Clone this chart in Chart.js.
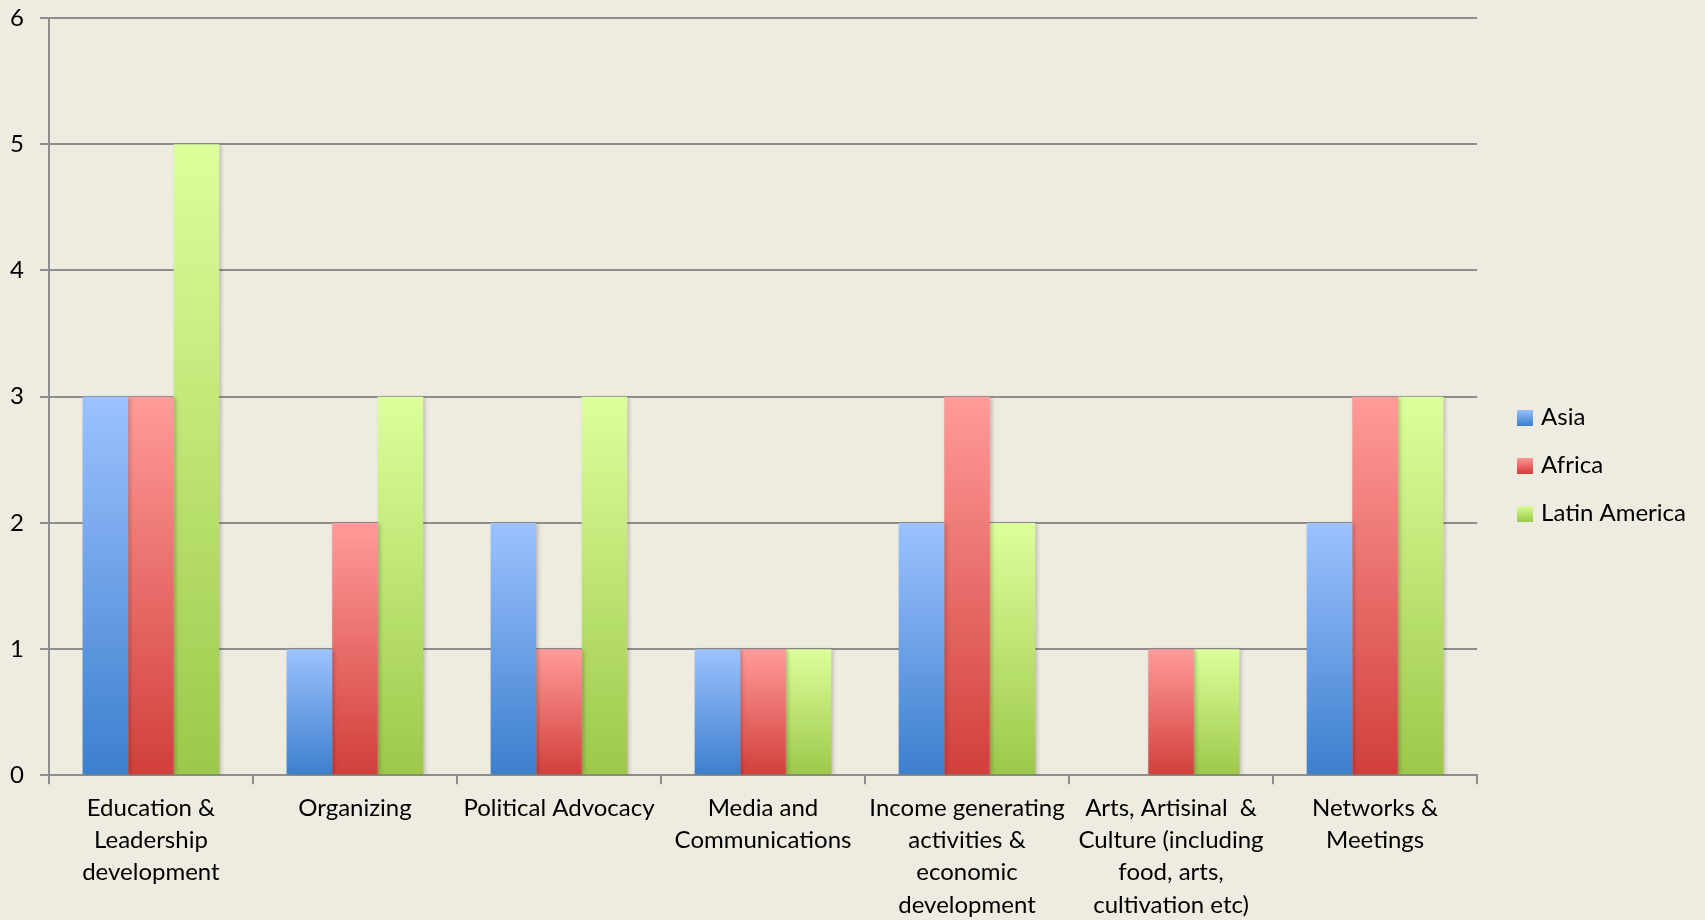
<!DOCTYPE html>
<html>
<head>
<meta charset="utf-8">
<script src="https://cdn.jsdelivr.net/npm/chart.js@4/dist/chart.umd.min.js"></script>
<style>
  html, body { margin: 0; padding: 0; background: #eeebe0; }
  #wrap { width: 1705px; height: 920px; position: relative; }
</style>
</head>
<body>
<div id="wrap"><canvas id="chart"></canvas></div>
<script>
// Data
const CATEGORIES = [
    ['Education &', 'Leadership', 'development'],
    'Organizing',
    'Political Advocacy',
    ['Media and', 'Communications'],
    ['Income generating', 'activities &', 'economic', 'development'],
    ['Arts, Artisinal  &', 'Culture (including', 'food, arts,', 'cultivation etc)'],
    ['Networks &', 'Meetings']
];
const ASIA = [3, 1, 2, 1, 2, 0, 2];
const AFRICA = [3, 2, 1, 1, 3, 1, 3];
const LATIN_AMERICA = [5, 3, 3, 1, 2, 1, 3];
const Y_TICKS = [0, 1, 2, 3, 4, 5, 6];

const GRID = '#8e8e8e';
const FONT = 'Lato';
const LEGEND_WIDEN = 27; // extra legend width (plot gets narrower)
const LEGEND_SHIFT_X = 20;
const LEGEND_SHIFT_Y = 1;

// Vertical gradient per bar: light at the top, dark at the base
function barGradient(top, bottom) {
    return (ctx) => {
        const chart = ctx.chart;
        if (!chart.chartArea || ctx.type !== 'data') return bottom;
        const y = chart.scales.y;
        const yTop = y.getPixelForValue(ctx.raw);
        const yBase = y.getPixelForValue(0);
        if (yTop >= yBase) return bottom;
        const g = chart.ctx.createLinearGradient(0, yTop, 0, yBase);
        g.addColorStop(0, top);
        g.addColorStop(1, bottom);
        return g;
    };
}

// Small gradient square used as the legend marker
function legendSwatch(top, bottom) {
    const c = document.createElement('canvas');
    c.width = 16; c.height = 16;
    const x = c.getContext('2d');
    const g = x.createLinearGradient(0, 0, 0, 16);
    g.addColorStop(0, top);
    g.addColorStop(1, bottom);
    x.fillStyle = g;
    x.fillRect(0, 0, 16, 16);
    return c;
}

const SERIES = [
    { label: 'Asia', data: ASIA, top: '#9cc2ff', bottom: '#3c7fcd' },
    { label: 'Africa', data: AFRICA, top: '#ff9b99', bottom: '#d13f3b' },
    { label: 'Latin America', data: LATIN_AMERICA, top: '#dcff9b', bottom: '#9dc84a' }
];

// Soft drop shadow behind the bars
const barShadow = {
    id: 'barShadow',
    beforeDatasetsDraw(chart) {
        const c = chart.ctx;
        c.save();
        c.shadowColor = 'rgba(0,0,0,0.22)';
        c.shadowBlur = 4;
        c.shadowOffsetX = 2;
        c.shadowOffsetY = 1;
    },
    afterDatasetsDraw(chart) {
        chart.ctx.restore();
    }
};

// Widen the legend box and nudge its items, leaving a wider gap to the plot
const legendGap = {
    id: 'legendGap',
    afterInit(chart) {
        const legend = chart.legend;
        const fit = legend.fit;
        legend.fit = function () {
            fit.call(this);
            this.width += LEGEND_WIDEN;
        };
    },
    afterLayout(chart) {
        const l = chart.legend;
        l.left += LEGEND_SHIFT_X;
        l.right += LEGEND_SHIFT_X;
        l.top += LEGEND_SHIFT_Y;
        l.bottom += LEGEND_SHIFT_Y;
    }
};

new Chart(document.getElementById('chart'), {
    type: 'bar',
    data: {
        labels: CATEGORIES,
        datasets: SERIES.map(s => ({
            label: s.label,
            data: s.data,
            backgroundColor: barGradient(s.top, s.bottom),
            borderWidth: 0,
            categoryPercentage: 0.67,
            barPercentage: 1.0
        }))
    },
    plugins: [barShadow, legendGap],
    options: {
        responsive: true,
        maintainAspectRatio: false,
        animation: false,
        layout: { padding: { top: 0, left: -6, right: 2, bottom: -9 } },
        plugins: {
            tooltip: { enabled: false },
            legend: {
                position: 'right',
                labels: {
                    color: '#000',
                    font: { family: FONT, size: 24 },
                    usePointStyle: true,
                    pointStyleWidth: 8,
                    boxWidth: 16,
                    boxHeight: 16,
                    padding: 24,
                    generateLabels: (chart) => SERIES.map((s, i) => ({
                        text: s.label,
                        pointStyle: legendSwatch(s.top, s.bottom),
                        fillStyle: s.bottom,
                        strokeStyle: s.bottom,
                        lineWidth: 0,
                        fontColor: '#000',
                        hidden: !chart.isDatasetVisible(i),
                        datasetIndex: i
                    }))
                }
            }
        },
        scales: {
            x: {
                grid: {
                    display: true,
                    drawOnChartArea: false,
                    drawTicks: true,
                    tickLength: 9,
                    color: GRID,
                    lineWidth: 2
                },
                border: { display: true, color: GRID, width: 2 },
                ticks: {
                    color: '#000',
                    font: { family: FONT, size: 24, lineHeight: 1.34 },
                    padding: 8,
                    maxRotation: 0,
                    autoSkip: false
                }
            },
            y: {
                min: 0,
                max: 6,
                afterBuildTicks: (axis) => { axis.ticks = Y_TICKS.map(v => ({ value: v })); },
                afterFit: (axis) => { axis.paddingTop = 18; },
                grid: {
                    color: GRID,
                    lineWidth: 2,
                    drawTicks: true,
                    tickLength: 9
                },
                border: { display: true, color: GRID, width: 2 },
                ticks: {
                    color: '#000',
                    font: { family: FONT, size: 24 },
                    padding: 16
                }
            }
        }
    }
});
</script>
</body>
</html>
